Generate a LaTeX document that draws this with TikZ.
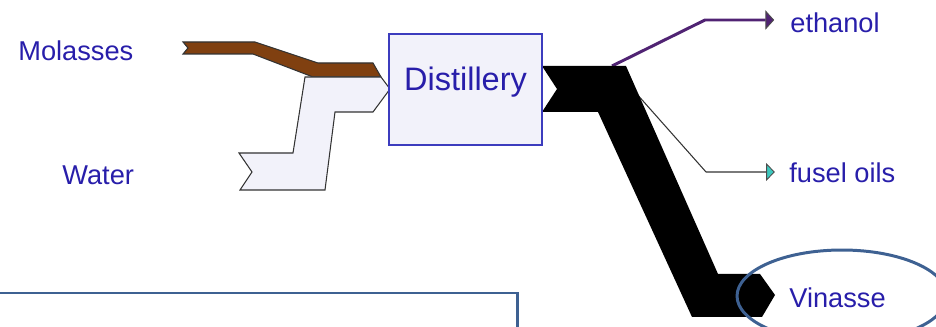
\documentclass[tikz,border=0pt]{standalone}
\usepackage{fontspec}
\setmainfont{Liberation Sans}
\usetikzlibrary{arrows.meta}
\definecolor{txtblue}{RGB}{40, 30, 170}
\definecolor{molbrown}{RGB}{128, 64, 16}
\definecolor{boxfill}{RGB}{242, 242, 250}
\definecolor{boxblue}{RGB}{60, 60, 190}
\definecolor{ethpurple}{RGB}{80, 35, 115}
\definecolor{fusteal}{RGB}{60, 200, 190}
\definecolor{markblue}{RGB}{62, 97, 146}

\begin{document}
\begin{tikzpicture}[x=0.02cm, y=-0.02cm,
                    lbl/.style={anchor=base west, inner sep=0pt, text=txtblue, font=\fontsize{15.5}{18}\selectfont},
                    flow/.style={draw=black!80, line width=0.6pt, line join=miter}]
                    \useasboundingbox (0,0) rectangle (936,327);
                    \clip (0,0) rectangle (936,327);

                    \node[lbl] (mol) at (18,61) {Molasses};
                    \node[lbl] (wat) at (62,185) {Water};
                    \node[lbl] (eth) at (790,33) {ethanol};
                    \node[lbl] (fus) at (789,183) {fusel oils};
                    \node[lbl] (vin) at (789,308) {Vinasse};

                    \coordinate (split) at (612,66);
                    \coordinate (e1) at (705,20);
                    \coordinate (f1) at (706,172);

                    \draw[ethpurple, line width=1.7pt, shorten >=9pt, -{Triangle[length=5pt, width=11pt, color=black!70, fill=ethpurple, line width=0.5pt]}] (split) -- (e1) -- (e1 -| eth.west);
                    \draw[black!80, line width=0.6pt, shorten >=8pt, -{Triangle[length=5pt, width=10pt, color=black!70, fill=fusteal, line width=0.5pt]}] (split) -- (f1) -- (f1 -| fus.west);

                    \draw[flow, fill=molbrown] (183,42) -- (255,42) -- (318,63) -- (373,63) -- (381,77) -- (313,77) -- (253,54) -- (183,54) -- (188,48) -- cycle;
                    \draw[flow, fill=boxfill] (305,77) -- (381,77) -- (390,89) -- (373,112) -- (335,112) -- (325,190) -- (240,190) -- (252,172) -- (239,153) -- (293,153) -- cycle;
                    \fill (542,66) -- (626,66) -- (718,274) -- (760,274) -- (775,295) -- (762,317) -- (692,317) -- (598,112) -- (542,112) -- (557,89) -- cycle;

                    \node[draw=boxblue, fill=boxfill, line width=0.8pt, minimum width=3.06cm, minimum height=2.22cm, text=txtblue, font=\fontsize{18.5}{22}\selectfont, text height=0.73em, text depth=0.58em] (dist) at (465.5,89.5) {Distillery};

                    \draw[markblue, line width=1.7pt] (842,296) ellipse [x radius=2.1cm, y radius=0.92cm];
                    \draw[markblue, line width=1.7pt] (0,293) -- (517,293) -- (517,327);
                \end{tikzpicture}
\end{document}
